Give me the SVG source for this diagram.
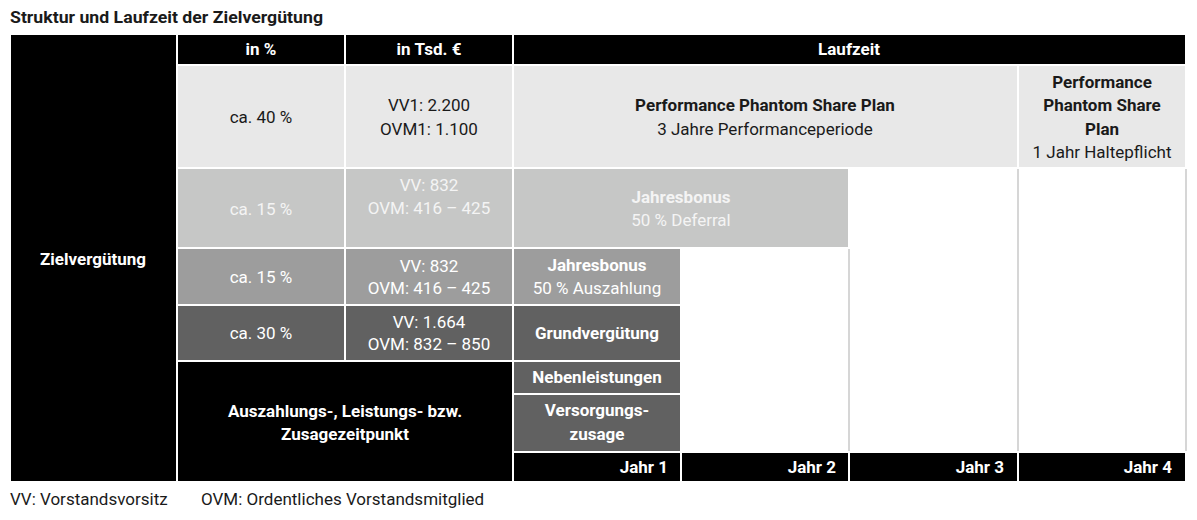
<svg xmlns="http://www.w3.org/2000/svg" width="1197" height="520" viewBox="0 0 1197 520">
<style>
.c{stroke:#fff;stroke-width:2}
.blk{fill:#000}
.r1{fill:#e8e8e8}
.r2{fill:#c6c7c6}
.r3{fill:#9d9d9d}
.r4{fill:#616161}
.grid{stroke:#c8c8c8;stroke-width:1.5;fill:none}
text{font-family:Roboto,"Liberation Sans",sans-serif;font-size:17px;text-anchor:middle}
.b{font-weight:bold}
.w{fill:#fff}
.lw{fill:#f4f4f4}
.d{fill:#1a1a1a}
.r{text-anchor:end}
.l{text-anchor:start}
</style>
<rect width="1197" height="520" fill="#fff"/>
<text class="b d l" x="10" y="23" style="font-size:16.5px" textLength="313" lengthAdjust="spacingAndGlyphs">Struktur und Laufzeit der Zielvergütung</text>
<g id="grid-lines">
<line class="grid" x1="681" y1="248" x2="681" y2="452"/>
<line class="grid" x1="849" y1="168" x2="849" y2="452"/>
<line class="grid" x1="1018" y1="168" x2="1018" y2="452"/>
<line class="grid" x1="1186" y1="168" x2="1186" y2="452"/>
<line class="grid" x1="681" y1="452" x2="1186" y2="452"/>
</g>
<g id="zielverguetung">
<rect class="c blk" x="10" y="34" width="167" height="448"/>
<text class="b w" x="93" y="265">Zielvergütung</text>
</g>
<g id="head-pct"><rect class="c blk" x="177" y="34" width="168" height="31"/><text class="b w" x="261" y="55">in %</text></g>
<g id="head-tsd"><rect class="c blk" x="345" y="34" width="168" height="31"/><text class="b w" x="429" y="55">in Tsd. €</text></g>
<g id="head-laufzeit"><rect class="c blk" x="513" y="34" width="673" height="31"/><text class="b w" x="849" y="55">Laufzeit</text></g>
<g id="r1-pct"><rect class="c r1" x="177" y="65" width="168" height="103"/><text class="d" x="261" y="123">ca. 40 %</text></g>
<g id="r1-tsd"><rect class="c r1" x="345" y="65" width="168" height="103"/><text class="d" x="429" y="111">VV1: 2.200</text><text class="d" x="429" y="135">OVM1: 1.100</text></g>
<g id="ppsp"><rect class="c r1" x="513" y="65" width="505" height="103"/><text class="b d" x="765" y="111">Performance Phantom Share Plan</text><text class="d" x="765" y="135">3 Jahre Performanceperiode</text></g>
<g id="ppsp-halte"><rect class="c r1" x="1018" y="65" width="168" height="103"/><text class="b d" x="1102" y="88">Performance</text><text class="b d" x="1102" y="111">Phantom Share</text><text class="b d" x="1102" y="135">Plan</text><text class="d" x="1102" y="158">1 Jahr Haltepflicht</text></g>
<g id="r2-pct"><rect class="c r2" x="177" y="168" width="168" height="80"/><text class="lw" x="261" y="215">ca. 15 %</text></g>
<g id="r2-tsd"><rect class="c r2" x="345" y="168" width="168" height="80"/><text class="lw" x="429" y="191">VV: 832</text><text class="lw" x="429" y="214">OVM: 416 – 425</text></g>
<g id="jb-deferral"><rect class="c r2" x="513" y="168" width="336" height="80"/><text class="b lw" x="681" y="203">Jahresbonus</text><text class="lw" x="681" y="226">50 % Deferral</text></g>
<g id="r3-pct"><rect class="c r3" x="177" y="248" width="168" height="57"/><text class="w" x="261" y="283">ca. 15 %</text></g>
<g id="r3-tsd"><rect class="c r3" x="345" y="248" width="168" height="57"/><text class="w" x="429" y="272">VV: 832</text><text class="w" x="429" y="294">OVM: 416 – 425</text></g>
<g id="jb-auszahlung"><rect class="c r3" x="513" y="248" width="168" height="57"/><text class="b w" x="597" y="271">Jahresbonus</text><text class="w" x="597" y="294">50 % Auszahlung</text></g>
<g id="r4-pct"><rect class="c r4" x="177" y="305" width="168" height="56"/><text class="w" x="261" y="339">ca. 30 %</text></g>
<g id="r4-tsd"><rect class="c r4" x="345" y="305" width="168" height="56"/><text class="w" x="429" y="328">VV: 1.664</text><text class="w" x="429" y="350">OVM: 832 – 850</text></g>
<g id="grundverguetung"><rect class="c r4" x="513" y="305" width="168" height="56"/><text class="b w" x="597" y="339">Grundvergütung</text></g>
<g id="zeitpunkt"><rect class="c blk" x="177" y="361" width="336" height="121"/><text class="b w" x="345" y="417">Auszahlungs-, Leistungs- bzw.</text><text class="b w" x="345" y="440">Zusagezeitpunkt</text></g>
<g id="nebenleistungen"><rect class="c r4" x="513" y="361" width="168" height="33"/><text class="b w" x="597" y="383">Nebenleistungen</text></g>
<g id="versorgungszusage"><rect class="c r4" x="513" y="394" width="168" height="58"/><text class="b w" x="597" y="416">Versorgungs-</text><text class="b w" x="597" y="440">zusage</text></g>
<g id="jahr1"><rect class="c blk" x="513" y="452" width="168" height="30"/><text class="b w r" x="668" y="473">Jahr 1</text></g>
<g id="jahr2"><rect class="c blk" x="681" y="452" width="168" height="30"/><text class="b w r" x="836" y="473">Jahr 2</text></g>
<g id="jahr3"><rect class="c blk" x="849" y="452" width="169" height="30"/><text class="b w r" x="1004" y="473">Jahr 3</text></g>
<g id="jahr4"><rect class="c blk" x="1018" y="452" width="168" height="30"/><text class="b w r" x="1172" y="473">Jahr 4</text></g>
<text class="d l" x="10" y="505">VV: Vorstandsvorsitz</text>
<text class="d l" x="201" y="505">OVM: Ordentliches Vorstandsmitglied</text>
</svg>
